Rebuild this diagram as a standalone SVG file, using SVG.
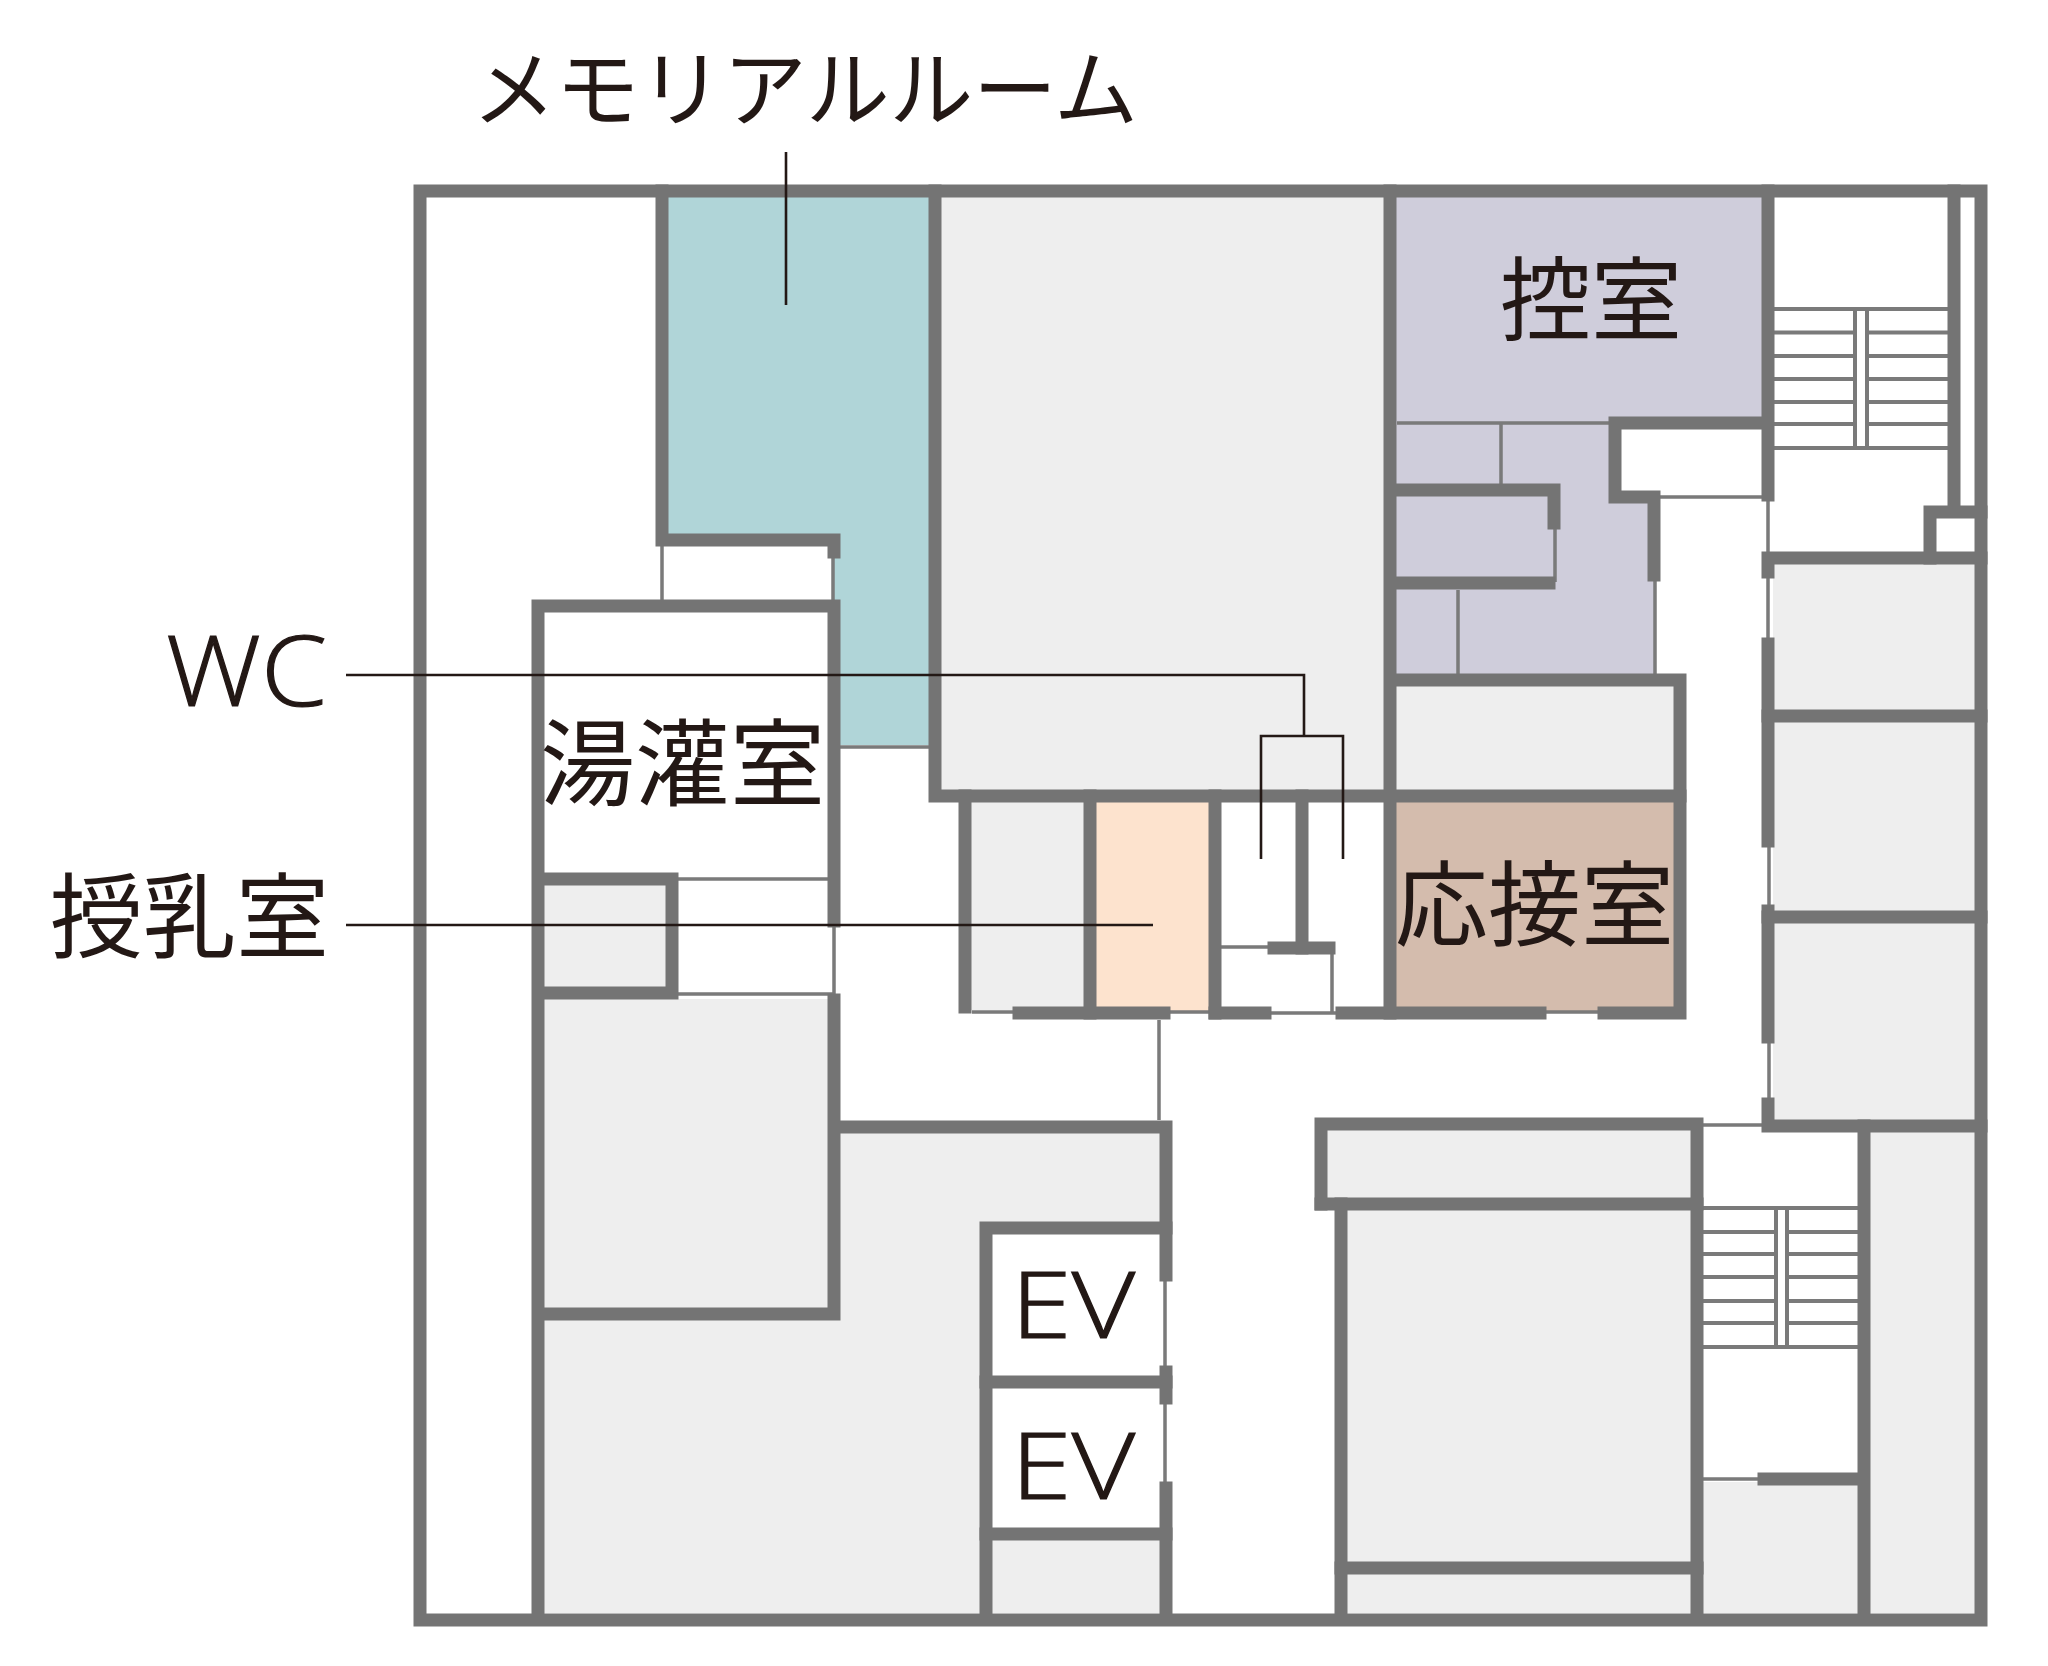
<svg xmlns="http://www.w3.org/2000/svg" width="2048" height="1666" viewBox="0 0 2048 1666">
<style>
.w{stroke:#747474;stroke-width:13;fill:none;stroke-linecap:square;stroke-linejoin:miter}
.t{stroke:#7a7a7a;stroke-width:3.5;fill:none}
.s{stroke:#7a7a7a;stroke-width:4;fill:none}
.g{fill:#eeeeee}
.c{stroke:#231815;stroke-width:2.6;fill:none}
text{fill:#231815;font-family:"Noto Sans CJK JP","Noto Sans",sans-serif;font-weight:400}
.l{font-family:"Open Sans","Liberation Sans",sans-serif;font-weight:300;stroke:#231815;stroke-width:1.2}
</style>
<rect width="2048" height="1666" fill="#fff"/>
<g id="fills">
<polygon fill="#b0d5d8" points="668,197 930,197 930,745 839,745 839,606 834,606 834,546 668,534"/>
<polygon fill="#cfcddb" points="1396,197 1762,197 1762,417 1609,417 1609,502 1655,502 1655,674 1396,674"/>
<rect fill="#fde3ce" x="1095" y="802" width="115" height="210"/>
<rect fill="#d4bcad" x="1396" y="802" width="279" height="210"/>
<rect class="g" x="941" y="197" width="443" height="593"/>
<rect class="g" x="1396" y="686" width="279" height="104"/>
<rect class="g" x="970" y="802" width="115" height="208"/>
<rect class="g" x="544" y="885" width="124" height="103"/>
<rect class="g" x="544" y="999" width="285" height="310"/>
<polygon class="g" points="544,1320 839,1320 839,1132 1160,1132 1160,1222 980,1222 980,1613 544,1613"/>
<rect class="g" x="992" y="1540" width="168" height="73"/>
<rect class="g" x="1327" y="1130" width="365" height="68"/>
<rect class="g" x="1347" y="1210" width="345" height="352"/>
<rect class="g" x="1347" y="1574" width="345" height="39"/>
<rect class="g" x="1773" y="564" width="202" height="147"/>
<rect class="g" x="1773" y="722" width="202" height="190"/>
<rect class="g" x="1773" y="923" width="202" height="197"/>
<rect class="g" x="1869" y="1132" width="106" height="481"/>
<rect class="g" x="1703" y="1482" width="155" height="131"/>
</g>
<g id="thin-lines">
<path class="t" d="M662,546V600M833,555V600M840,747H930M678,879H828M678,994H834M834,927V994M1221,947H1268M1332,948V1013M1271,1013H1336M972,1012H1013M1170,1012H1209M1159,1020V1120M1165,1281V1370M1165,1400V1483M1545,1012H1600M1768,500V552M1768,578V638M1660,497H1768M1397,423H1609M1501,423V486M1555,529V582M1655,581V674M1458,590V674M1769,847V905M1769,1043V1098M1703,1125H1763M1703,1479H1758"/>
<path class="s" d="M1773,309H1948M1773,332.500H1853M1869,332.500H1948M1773,356H1853M1869,356H1948M1773,379H1853M1869,379H1948M1773,402H1853M1869,402H1948M1773,424H1853M1869,424H1948M1773,448H1948M1855,309V448M1867,309V448"/>
<path class="s" d="M1703,1208H1858M1703,1232H1775M1788,1232H1858M1703,1254H1775M1788,1254H1858M1703,1277H1775M1788,1277H1858M1703,1301H1775M1788,1301H1858M1703,1323H1775M1788,1323H1858M1703,1347H1858M1776,1208V1347M1787,1208V1347"/>
</g>
<g id="walls">
<rect class="w" x="420" y="191" width="1561" height="1429" stroke-linecap="butt"/>
<path class="w" d="M662,191V540H834V552"/>
<path class="w" d="M935,191V796H1680M1390,191V1013"/>
<path class="w" d="M538,1619V606H834V921"/>
<path class="w" d="M544,879H672V993H544"/>
<path class="w" d="M834,1000V1314H544"/>
<path class="w" d="M840,1127H1166V1275"/>
<path class="w" d="M1166,1372V1398"/>
<path class="w" d="M1166,1488V1619"/>
<path class="w" d="M965,796V1007"/>
<path class="w" d="M1090,796V1013"/>
<path class="w" d="M1215,796V1013"/>
<path class="w" d="M1302,796V948"/>
<path class="w" d="M1274,948H1329"/>
<path class="w" d="M1019,1013H1164"/>
<path class="w" d="M1215,1013H1265"/>
<path class="w" d="M1342,1013H1540"/>
<path class="w" d="M1604,1013H1680V680H1397"/>
<path class="w" d="M1397,490H1554V523"/>
<path class="w" d="M1397,583H1549"/>
<path class="w" d="M1768,191V495"/>
<path class="w" d="M1762,423H1615V497H1654V575"/>
<path class="w" d="M1954,191V506"/>
<path class="w" d="M1981,512H1930V558"/>
<path class="w" d="M1981,558H1768V572"/>
<path class="w" d="M1768,644V841"/>
<path class="w" d="M1768,911V1037"/>
<path class="w" d="M1768,1104V1126H1981"/>
<path class="w" d="M1768,716H1981"/>
<path class="w" d="M1768,917H1981"/>
<path class="w" d="M1864,1126V1619"/>
<path class="w" d="M1764,1479H1858"/>
<path class="w" d="M1321,1204V1124H1697V1619"/>
<path class="w" d="M1321,1204H1697"/>
<path class="w" d="M1341,1204V1619"/>
<path class="w" d="M1341,1568H1697"/>
<path class="w" d="M986,1619V1228H1166"/>
<path class="w" d="M986,1382H1166"/>
<path class="w" d="M986,1534H1166"/>
</g>
<g id="connectors">
<path class="c" d="M786,152V305"/>
<path class="c" d="M346,675H1304V736"/>
<path class="c" d="M1261,859V736H1343V859"/>
<path class="c" d="M346,925H1153"/>
</g>
<g id="labels">
<text id="memorial" x="472" y="120" font-size="84" textLength="666">メモリアルルーム</text>
<text id="hikae" x="1500" y="333" font-size="91">控室</text>
<text id="yukan" x="540" y="799" font-size="95">湯灌室</text>
<text id="jyunyu" x="50" y="951" font-size="93">授乳室</text>
<text id="ousetsu" x="1395" y="939" font-size="93">応接室</text>
<text id="wc" class="l" x="166" y="706" font-size="98" textLength="161" lengthAdjust="spacingAndGlyphs">WC</text>
<text id="ev1" class="l" x="1011" y="1338" font-size="92" textLength="124" lengthAdjust="spacingAndGlyphs">EV</text>
<text id="ev2" class="l" x="1011" y="1499" font-size="92" textLength="124" lengthAdjust="spacingAndGlyphs">EV</text>
</g>
</svg>
